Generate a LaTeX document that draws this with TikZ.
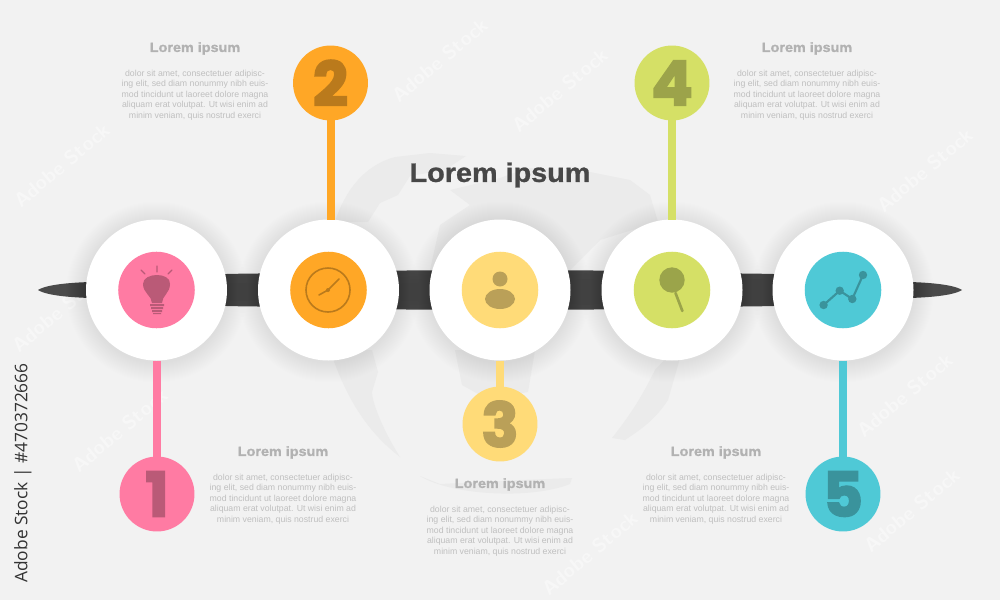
\documentclass[tikz,border=0pt]{standalone}
\usepackage{fontspec}
\setmainfont{Liberation Sans}
\newfontfamily\pinfont[FakeBold=3]{Poppins Bold}
\newfontfamily\headfont[FakeBold=1,FakeStretch=1.08]{Liberation Sans Bold}
\newfontfamily\idfont{Open Sans}
\definecolor{paper}{HTML}{F2F2F2}
\definecolor{landgray}{HTML}{EBEBEB}
\definecolor{barcol}{HTML}{4A4A4A}
\definecolor{pinkcol}{HTML}{FF7BA3}
\definecolor{orangecol}{HTML}{FFA726}
\definecolor{yellowcol}{HTML}{FFDB78}
\definecolor{greencol}{HTML}{D5E066}
\definecolor{tealcol}{HTML}{4FC9D6}
\newcommand{\bodylines}{dolor sit amet, consectetuer adipisc-\\ing elit, sed diam nonummy nibh euis-\\mod tincidunt ut laoreet dolore magna\\aliquam erat volutpat. Ut wisi enim ad\\minim veniam, quis nostrud exerci}
\tikzset{
  hub/.style={circle,fill=white,minimum size=105.75pt,inner sep=0pt,outer sep=0pt},
  disc/.style={circle,fill=#1,minimum size=57.4pt,inner sep=0pt,outer sep=0pt},
  pin/.style={circle,fill=#1,minimum size=56.2pt,inner sep=0pt,outer sep=0pt,
    font=\pinfont\fontsize{46}{46}\selectfont,text=#1!73!black},
  stem/.style={draw=#1,line width=6pt,shorten >=-1pt},
  heading/.style={font=\headfont\fontsize{10}{12}\selectfont,text=black!30,inner sep=0pt},
  blurb/.style={font=\fontsize{6.55}{7.9}\selectfont,text=black!25,align=center,inner sep=0pt},
  glyph/.style={fill=#1!73!black,draw=none},
  glyphline/.style={draw=#1!73!black,line cap=round},
  land/.style={fill=landgray,draw=none},
  stockmark/.style={font=\sffamily\bfseries\fontsize{15}{15}\selectfont,text=white,text opacity=.4,rotate=40}
}
\begin{document}
\begin{tikzpicture}[x=.75pt,y=-.75pt]
  \fill[paper] (0,0) rectangle (1000,600);
  \clip (0,0) rectangle (1000,600);
  \fill[land] (335,222) .. controls (345,190) and (365,165) .. (395,157) -- (430,153) -- (466,156) -- (445,170) -- (410,176) -- (398,195) -- (380,203) -- (368,222) -- cycle;
  \fill[land] (528,168) -- (590,172) -- (630,180) -- (650,195) -- (658,222) -- (600,240) -- (570,270) -- (430,270) -- (440,225) -- (470,205) -- (450,190) -- (500,178) -- cycle;
  \fill[land] (330,350) .. controls (345,395) and (365,430) .. (400,457) .. controls (380,425) and (372,400) .. (372,392) -- (378,372) -- (372,350) -- cycle;
  \fill[land] (455,350) -- (535,350) -- (528,392) -- (510,395) -- (480,395) -- (462,385) -- cycle;
  \fill[land] (612,438) .. controls (630,415) and (640,400) .. (655,370) -- (672,352) -- (680,358) -- (668,400) .. controls (655,420) and (640,430) .. (625,440) -- cycle;
  \fill[land] (420,476) .. controls (450,495) and (530,500) .. (570,484) -- (572,478) -- (520,480) -- (440,484) -- cycle;
  \foreach \mx/\my [count=\n] in {62/165,120/430,925/170,912/510,560/90,905/395,590/553,440/60,60/310}
    \node[stockmark] (mark\n) at (\mx,\my) {Adobe Stock};
  \fill[barcol] (38,290) .. controls (44,286) and (60,283) .. (90,282)
    .. controls (140,278) and (190,274) .. (258,273.5)
    .. controls (330,271) and (430,270) .. (500,270)
    .. controls (570,270) and (670,271) .. (742,273.5)
    .. controls (810,274) and (860,278) .. (910,282)
    .. controls (940,283) and (956,286) .. (962,290)
    .. controls (956,294) and (940,297) .. (910,298)
    .. controls (860,302) and (810,306) .. (742,306.5)
    .. controls (670,309) and (570,310) .. (500,310)
    .. controls (430,310) and (330,309) .. (258,306.5)
    .. controls (190,306) and (140,302) .. (90,298)
    .. controls (60,297) and (44,294) .. (38,290) -- cycle;
  \foreach \cx in {156.5,328.5,500,672,843}
    \foreach \r in {1,...,20}
      \fill[black,opacity=.0035] (\cx,292) circle ({70.5+\r});
  \node[hub] (hub1) at (156.5,290) {};
  \node[hub] (hub2) at (328.5,290) {};
  \node[hub] (hub3) at (500,290) {};
  \node[hub] (hub4) at (672,290) {};
  \node[hub] (hub5) at (843,290) {};
  \node[disc=pinkcol] (disc1) at (156.5,290) {};
  \node[disc=orangecol] (disc2) at (328.5,290) {};
  \node[disc=yellowcol] (disc3) at (500,290) {};
  \node[disc=greencol] (disc4) at (672,290) {};
  \node[disc=tealcol] (disc5) at (843,290) {};
  \node[pin=pinkcol] (pin1) at (157,494) {1};
  \node[pin=orangecol] (pin2) at (330.5,83) {2};
  \node[pin=yellowcol] (pin3) at (500,424) {3};
  \node[pin=greencol] (pin4) at (672,83) {4};
  \node[pin=tealcol] (pin5) at (843,494) {5};
  \draw[stem=pinkcol] (hub1.south -| pin1) -- (pin1);
  \draw[stem=orangecol] (hub2.north -| pin2) -- (pin2);
  \draw[stem=yellowcol] (hub3) -- (pin3);
  \draw[stem=greencol] (hub4) -- (pin4);
  \draw[stem=tealcol] (hub5) -- (pin5);
  \path[glyph=pinkcol] (152,303) .. controls (152,296) and (143,293) .. (143,284) .. controls (143,272) and (171,272) .. (170,284) .. controls (170,293) and (162,296) .. (162,303) -- cycle;
  \path[glyph=pinkcol] (150,304) rectangle (164,306) (151,307) rectangle (163,309) (152,310) rectangle (162,312) (153,313) rectangle (161,314);
  \draw[glyphline=pinkcol,line width=1pt] (157,266) -- (157,272) (141,270) -- (145,274) (172,270) -- (168,274);
  \draw[glyphline=orangecol,line width=1.2pt] (328,290) circle (22);
  \draw[glyphline=orangecol,line width=1.2pt] (319,295) -- (328,290) -- (339,279);
  \path[glyph=orangecol] (328,290) circle (2);
  \path[glyph=yellowcol] (500,279) ellipse (7.5 and 7.5);
  \path[glyph=yellowcol] (500,299) ellipse (15 and 10);
  \path[glyph=greencol] (672,280) circle (12.7);
  \draw[glyphline=greencol,line width=2pt] (675.5,293) -- (682.4,311);
  \draw[glyphline=tealcol,line width=1.6pt] (823.6,305) -- (839.7,290.7) -- (852.3,299) -- (863,275);
  \path[glyph=tealcol] (823.6,305) circle (4.2) (839.7,290.7) circle (4.2) (852.3,299) circle (4.2) (863,275) circle (4.2);
  \node[font=\headfont\fontsize{20}{24}\selectfont,text=black!72,inner sep=0pt] (maintitle) at (500,175) {Lorem ipsum};
  \node[heading] (head1) at (283,452.5) {Lorem ipsum};
  \node[heading] (head2) at (195,48.5) {Lorem ipsum};
  \node[heading] (head3) at (500,484.5) {Lorem ipsum};
  \node[heading] (head4) at (807,48.5) {Lorem ipsum};
  \node[heading] (head5) at (716,452.5) {Lorem ipsum};
  \node[blurb] (body1) at (283,499) {\bodylines};
  \node[blurb] (body2) at (195,95) {\bodylines};
  \node[blurb] (body3) at (500,531) {\bodylines};
  \node[blurb] (body4) at (807,95) {\bodylines};
  \node[blurb] (body5) at (716,499) {\bodylines};
  \node[font=\idfont\fontsize{13}{13}\selectfont,text=black!80,rotate=90,inner sep=0pt] (stockid) at (23,473) {Adobe Stock | \#470372666};
\end{tikzpicture}
\end{document}
